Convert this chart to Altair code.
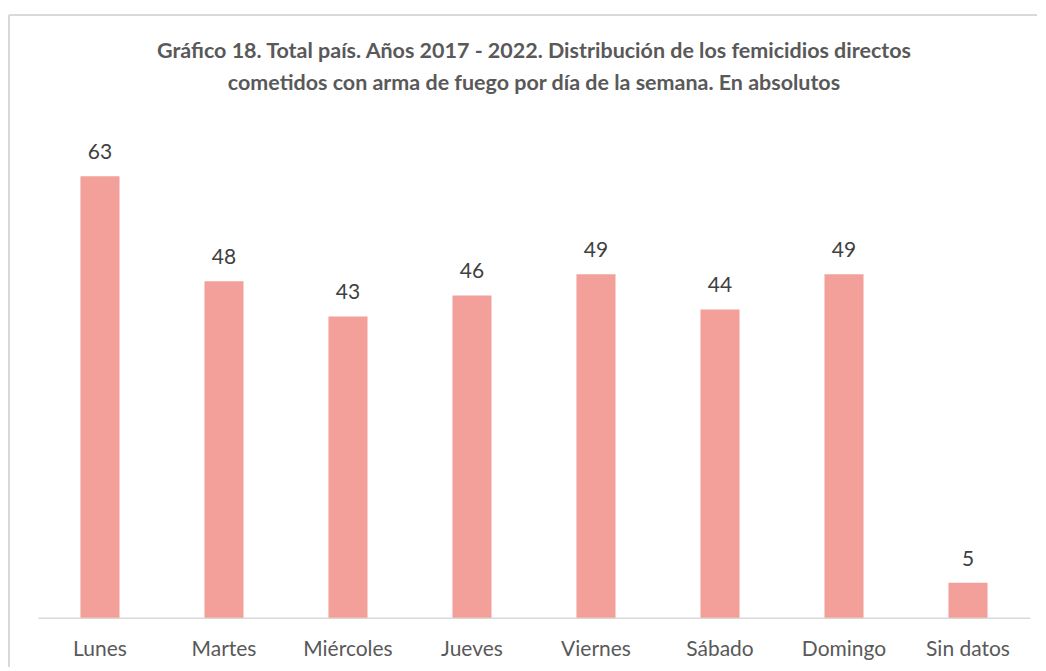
import altair as alt
import pandas as pd

dias = ["Lunes", "Martes", "Miércoles", "Jueves", "Viernes", "Sábado", "Domingo", "Sin datos"]
valores = [63, 48, 43, 46, 49, 44, 49, 5]
titulo = [
    "Gráfico 18. Total país. Años 2017 - 2022. Distribución de los femicidios directos",
    "cometidos con arma de fuego por día de la semana. En absolutos",
]

df = pd.DataFrame({"dia": dias, "valor": valores})

FONT = "Lato"

x = alt.X("dia:N", sort=dias, title=None,
          scale=alt.Scale(paddingInner=0.685, paddingOuter=0.3425),
          axis=alt.Axis(labelAngle=0, ticks=False, labelFontSize=21, labelFont=FONT,
                        labelColor="#595959", labelPadding=21, domainColor="#d9d9d9",
                        domainWidth=1.5))
y = alt.Y("valor:Q", axis=None, scale=alt.Scale(domain=[0, 70], nice=False))

bars = alt.Chart(df).mark_bar(color="#F3A09A").encode(x=x, y=y)
labels = alt.Chart(df).mark_text(fontSize=21, font=FONT, color="#404040",
                                 baseline="alphabetic", dy=-17).encode(
    x=x, y=y, text="valor:Q")

border_top = alt.Chart(df).mark_rule(color="#d9d9d9", strokeWidth=1.5).encode(
    x=alt.value(-29), x2=alt.value(1000), y=alt.value(-112))
border_left = alt.Chart(df).mark_rule(color="#d9d9d9", strokeWidth=1.5).encode(
    x=alt.value(-29), y=alt.value(-112), y2=alt.value(540))

chart = alt.layer(border_top, border_left, bars, labels).properties(
    width=993, height=491,
    title=alt.Title(text=titulo, fontSize=21.5, font=FONT, fontWeight="bold",
                    color="#595959", anchor="middle", offset=30, lineHeight=32,
                    dy=110),
    autosize=alt.AutoSizeParams(type="pad"),
    padding={"left": 0, "top": 6, "right": 0, "bottom": 0},
).configure_view(stroke=None)

chart.save("out.html", embed_options={"renderer": "svg", "actions": False})
